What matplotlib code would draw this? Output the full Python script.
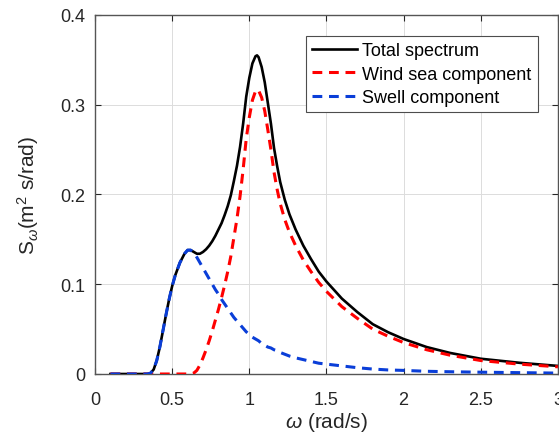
import matplotlib
matplotlib.use("Agg")
import matplotlib.pyplot as plt

# Fonts: Arial-like look
plt.rcParams['font.family'] = ['Liberation Sans', 'DejaVu Sans']
plt.rcParams['mathtext.fontset'] = 'custom'
plt.rcParams['mathtext.rm'] = 'Liberation Sans'
plt.rcParams['mathtext.it'] = 'Liberation Sans:italic'

# frequency grid (rad/s)
omega = [0.10, 0.20, 0.30, 0.34, 0.36, 0.38, 0.40, 0.42, 0.44, 0.46, 0.48, 0.50,
         0.52, 0.55, 0.58, 0.60, 0.62, 0.64, 0.66, 0.68, 0.70, 0.72, 0.74, 0.76,
         0.78, 0.80, 0.82, 0.84, 0.86, 0.88, 0.90, 0.92, 0.94, 0.96, 0.98, 1.00,
         1.02, 1.04, 1.05, 1.06, 1.08, 1.10, 1.12, 1.14, 1.16, 1.18, 1.20, 1.23,
         1.26, 1.30, 1.35, 1.40, 1.45, 1.50, 1.60, 1.70, 1.80, 1.90, 2.00, 2.15,
         2.30, 2.50, 2.75, 3.00]

# wind sea component (red dashed)
wind_sea = [0.0, 0.0, 0.0, 0.0, 0.0, 0.0, 0.0, 0.0, 0.0, 0.0, 0.0, 0.0,
            0.0, 0.0, 0.0, 0.0, 0.0, 0.001, 0.004, 0.010, 0.018, 0.027, 0.037, 0.048,
            0.060, 0.072, 0.085, 0.099, 0.114, 0.131, 0.152, 0.173, 0.198, 0.228, 0.262, 0.286,
            0.305, 0.315, 0.317, 0.316, 0.308, 0.293, 0.272, 0.250, 0.225, 0.206, 0.190, 0.172,
            0.158, 0.143, 0.127, 0.114, 0.102, 0.092, 0.075, 0.062, 0.050, 0.042, 0.035, 0.027,
            0.021, 0.015, 0.011, 0.008]

# swell component (blue dashed)
swell = [0.0, 0.0, 0.0, 0.0, 0.001, 0.005, 0.015, 0.030, 0.048, 0.066, 0.083, 0.098,
         0.110, 0.124, 0.134, 0.138, 0.138, 0.135, 0.130, 0.124, 0.118, 0.112, 0.106, 0.100,
         0.094, 0.089, 0.083, 0.078, 0.073, 0.068, 0.063, 0.059, 0.055, 0.051, 0.047, 0.044,
         0.041, 0.039, 0.038, 0.037, 0.034, 0.032, 0.030, 0.029, 0.027, 0.026, 0.024, 0.022,
         0.020, 0.018, 0.016, 0.014, 0.012, 0.011, 0.009, 0.007, 0.0055, 0.0045, 0.004, 0.003,
         0.0025, 0.002, 0.0015, 0.001]

# total spectrum (black solid)
total = [0.0, 0.0, 0.0, 0.0, 0.001, 0.005, 0.015, 0.030, 0.048, 0.066, 0.083, 0.098,
         0.110, 0.124, 0.134, 0.138, 0.138, 0.136, 0.134, 0.134, 0.136, 0.139, 0.143, 0.148,
         0.154, 0.161, 0.168, 0.177, 0.187, 0.199, 0.215, 0.232, 0.253, 0.279, 0.309, 0.330,
         0.346, 0.354, 0.355, 0.353, 0.342, 0.325, 0.302, 0.279, 0.252, 0.232, 0.214, 0.194,
         0.178, 0.161, 0.143, 0.128, 0.114, 0.103, 0.084, 0.069, 0.0555, 0.0465, 0.039, 0.030,
         0.0235, 0.017, 0.0125, 0.009]

xticks = [0, 0.5, 1, 1.5, 2, 2.5, 3]
xtick_labels = ['0', '0.5', '1', '1.5', '2', '2.5', '3']
yticks = [0, 0.1, 0.2, 0.3, 0.4]
ytick_labels = ['0', '0.1', '0.2', '0.3', '0.4']

fig = plt.figure(figsize=(5.59, 4.39), dpi=100)
ax = fig.add_axes([0.170, 0.1458, 0.828, 0.8178])

ax.plot(omega, total, color='black', lw=1.9, label='Total spectrum', zorder=3)
ax.plot(omega, wind_sea, color='#ff0000', lw=2.2, dashes=(3.2, 2.2), label='Wind sea component', zorder=4)
ax.plot(omega, swell, color='#0a3ed8', lw=2.2, dashes=(3.2, 2.2), label='Swell component', zorder=4)

ax.set_xlim(0, 3)
ax.set_ylim(0, 0.4)
ax.set_xticks(xticks)
ax.set_xticklabels(xtick_labels)
ax.set_yticks(yticks)
ax.set_yticklabels(ytick_labels)
ax.tick_params(direction='in', top=True, right=True, labelsize=13, colors='#262626',
               length=4, width=0.8)
ax.tick_params(axis='x', pad=12)
ax.tick_params(axis='y', pad=7)
ax.grid(True, color='#dcdcdc', lw=0.7)
ax.set_axisbelow(True)
for s in ax.spines.values():
    s.set_color('#555555')
    s.set_linewidth(1.0)

ax.set_xlabel(r'$\omega$ (rad/s)', fontsize=15, color='#262626', labelpad=2)
ax.set_ylabel(r'S$_\omega$(m$^2$ s/rad)', fontsize=15, color='#262626', labelpad=14)

leg = ax.legend(loc='upper right', bbox_to_anchor=(0.957, 0.9415), fontsize=13,
                fancybox=False, edgecolor='#4d4d4d', framealpha=1,
                handlelength=2.5, handletextpad=0.28, borderpad=0.35, labelspacing=0.35,
                borderaxespad=0)
leg.get_frame().set_linewidth(0.8)

fig.savefig('out.png', dpi=100)
